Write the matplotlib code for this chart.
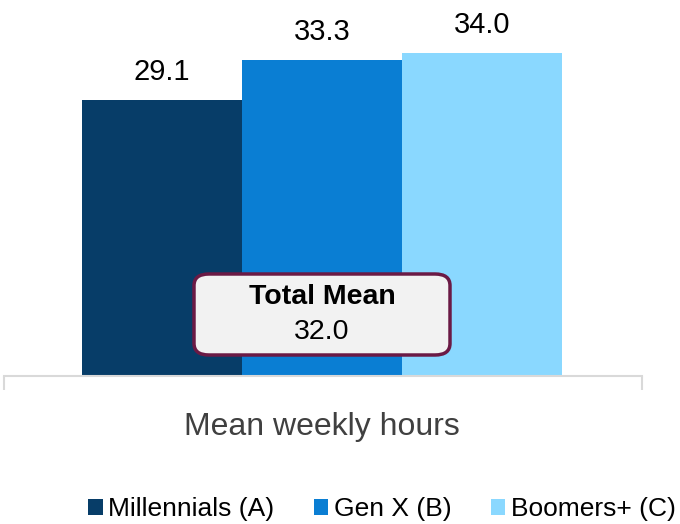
import matplotlib
matplotlib.use("Agg")
import matplotlib.pyplot as plt
from matplotlib.patches import Patch, FancyBboxPatch

series = ["Millennials (A)", "Gen X (B)", "Boomers+ (C)"]
values = [29.1, 33.3, 34.0]
colors = ["#073D68", "#0A7ED3", "#8AD8FF"]
category = "Mean weekly hours"
total_mean = 32.0

plt.rcParams['font.family'] = ['Liberation Sans', 'DejaVu Sans']

W, H = 680, 524
fig = plt.figure(figsize=(W / 100, H / 100), dpi=100)

# axes in pixel coords
ax_left, ax_right = 4, 642
base_y = 376
ax = fig.add_axes([ax_left / W, (H - base_y) / H, (ax_right - ax_left) / W, base_y / H])

px_per_unit_x = 160.0
bar_x = [-1, 0, 1]
ax.bar(bar_x, values, width=1.0, color=colors, zorder=2)
ax.set_xlim(-1.5 - (82 - ax_left) / px_per_unit_x, 1.5 + (ax_right - 562) / px_per_unit_x)
ax.set_ylim(0, base_y / 9.5)

for s in ["top", "right", "left"]:
    ax.spines[s].set_visible(False)
ax.spines["bottom"].set_color("#D9D9D9")
ax.spines["bottom"].set_linewidth(1.5)
ax.set_yticks([])
ax.set_xticks(list(ax.get_xlim()))
ax.set_xticklabels(["", ""])
ax.tick_params(axis="x", length=10, width=1.5, color="#D9D9D9", direction="out")

for x, v in zip(bar_x, values):
    ax.annotate(f"{v:.1f}", (x, v), xytext=(0, 20), textcoords="offset points",
                ha="center", va="center", fontsize=21, color="#000000")

ax.text(0, -0.135, category, transform=ax.get_xaxis_transform(), ha="center", va="center",
        fontsize=23, color="#404040")

# Total mean box
bx0, by0, bw, bh = 194, 274, 256, 81
box = FancyBboxPatch((bx0 / W, (H - by0 - bh) / H), bw / W, bh / H,
                     boxstyle="round,pad=0,rounding_size=0.022",
                     transform=fig.transFigure, facecolor="#F2F2F2",
                     edgecolor="#6B1A45", linewidth=2.5, zorder=5)
fig.patches.append(box)
cx = (bx0 + bw / 2) / W
fig.text(cx, (H - 297) / H, "Total Mean", ha="center", va="center", fontsize=20.5,
         fontweight="bold", color="#000000", zorder=6)
fig.text(cx, (H - 332) / H, f"{total_mean:.1f}", ha="center", va="center", fontsize=20.5,
         color="#000000", zorder=6)

handles = [Patch(facecolor=c, edgecolor="none") for c in colors]
fig.legend(handles, series, loc="center", bbox_to_anchor=(382 / W, 1 - 509 / H), ncol=3,
           frameon=False, fontsize=19, handlelength=0.55, handleheight=0.55,
           handletextpad=0.2, columnspacing=1.5, labelcolor="#000000",
           borderpad=0, borderaxespad=0)

fig.savefig("out.png", dpi=100)
